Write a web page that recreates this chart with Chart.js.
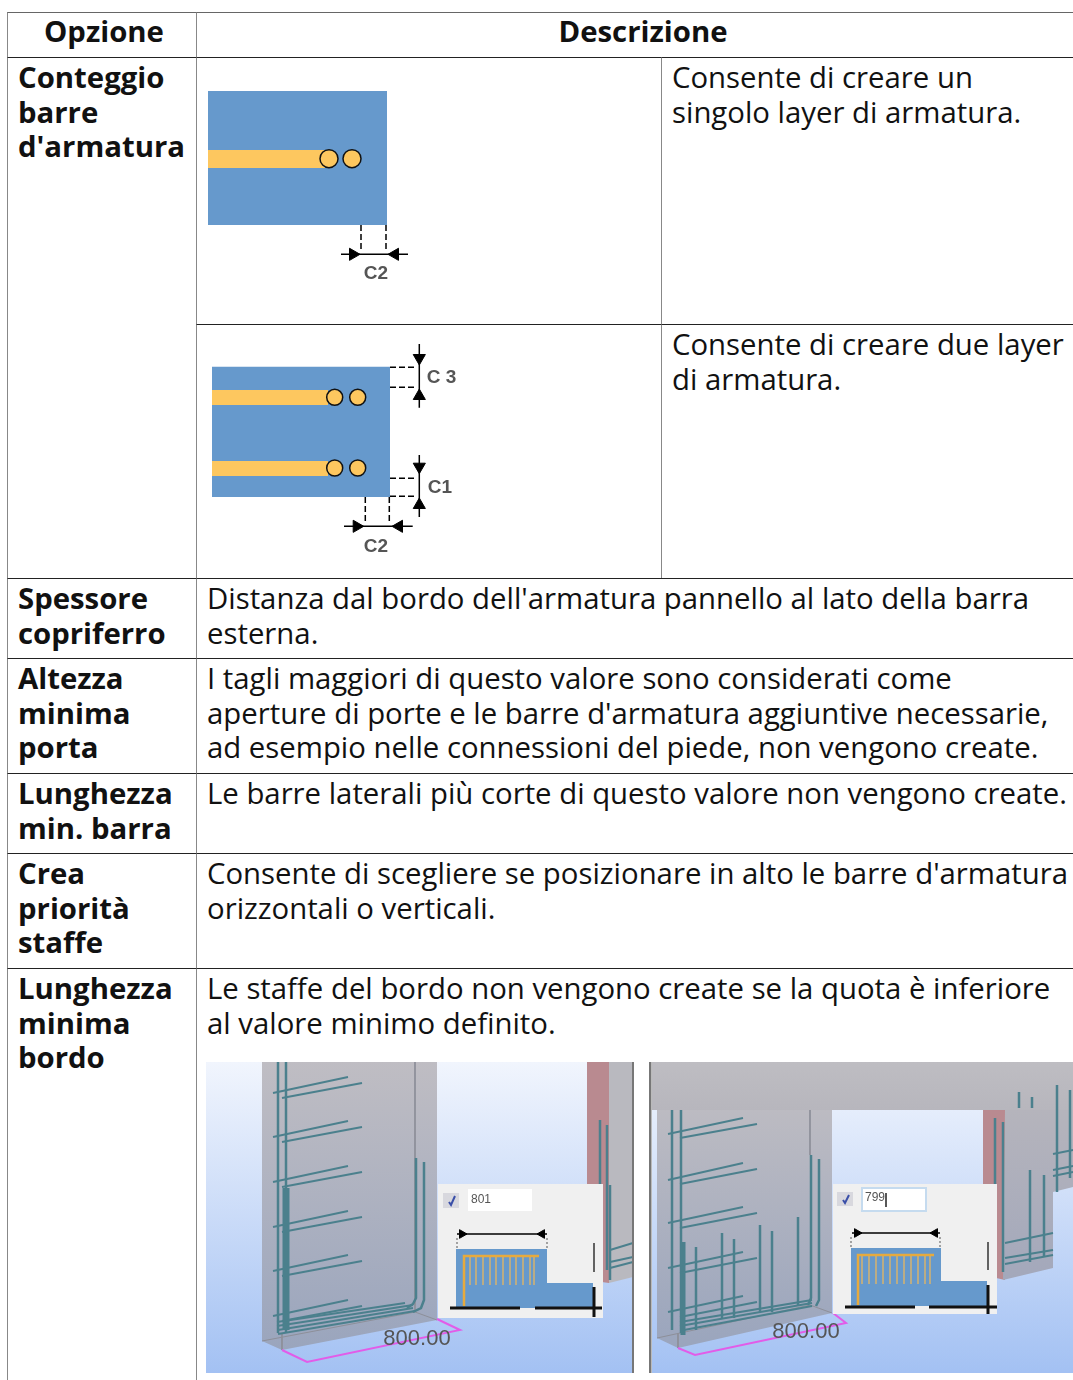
<!DOCTYPE html>
<html lang="it">
<head>
  <meta charset="UTF-8" />
  <title>Opzione / Descrizione</title>
  <script src="https://cdn.jsdelivr.net/npm/chart.js"></script>
  <style>
    html, body { margin: 0; background: #fff; width: 1073px; height: 1380px; overflow: hidden; }
    table { position: absolute; left: 7px; top: 12px; width: 1100px; table-layout: fixed; border-collapse: separate; border-spacing: 0;
            font: 29.33px/34.7px "Open Sans", sans-serif; color: #111; }
    th, td { border-left: 1px solid #888; border-top: 1px solid #222; padding: 2px 0 0 10px; vertical-align: top; text-align: left; white-space: nowrap; box-sizing: border-box; }
    tr:first-child th { border-top-color: #666; text-align: center; padding: 1px 0 0 0; }
    td.opt { font-weight: 700; }
    canvas { position: absolute; }
    .photo { filter: blur(0.7px); }
    .fig { filter: blur(0.4px); }
  </style>
</head>
<body>
  <table>
    <colgroup><col style="width:189px"><col style="width:465px"><col></colgroup>
    <tr style="height:45px"><th style="padding-left:4px">Opzione</th><th colspan="2" style="padding-right:18px">Descrizione</th></tr>
    <tr style="height:267px"><td class="opt" rowspan="2">Conteggio<br>barre<br>d'armatura</td><td></td><td>Consente di creare un<br>singolo layer di armatura.</td></tr>
    <tr style="height:254px"><td></td><td>Consente di creare due layer<br>di armatura.</td></tr>
    <tr style="height:80px"><td class="opt">Spessore<br>copriferro</td><td colspan="2">Distanza dal bordo dell'armatura pannello al lato della barra<br>esterna.</td></tr>
    <tr style="height:115px"><td class="opt">Altezza<br>minima<br>porta</td><td colspan="2">I tagli maggiori di questo valore sono considerati come<br>aperture di porte e le barre d'armatura aggiuntive necessarie,<br>ad esempio nelle connessioni del piede, non vengono create.</td></tr>
    <tr style="height:80px"><td class="opt">Lunghezza<br>min. barra</td><td colspan="2">Le barre laterali più corte di questo valore non vengono create.</td></tr>
    <tr style="height:115px"><td class="opt">Crea<br>priorità<br>staffe</td><td colspan="2">Consente di scegliere se posizionare in alto le barre d'armatura<br>orizzontali o verticali.</td></tr>
    <tr style="height:412px"><td class="opt">Lunghezza<br>minima<br>bordo</td><td colspan="2">Le staffe del bordo non vengono create se la quota è inferiore<br>al valore minimo definito.</td></tr>
  </table>

  <canvas id="fig1" class="fig"></canvas>
  <canvas id="fig2" class="fig"></canvas>
  <canvas id="photo1" class="photo"></canvas>
  <canvas id="photo2" class="photo"></canvas>

  <script>
    const BLUE = '#6699cc', YELLOW = '#fdc75f', TEAL = '#4b808d', PINK = '#e25ce8', ROSE = '#b98a90';

    // coverage figures (values are in the picture's own x/y units)
    const fig1Plate = [[208,91],[387,91],[387,225],[208,225]];
    const fig1Bar = [[208,150],[325,150],[325,168],[208,168]];
    const fig1Bars = [[329,158.7],[352,158.7]];
    const fig1Dashes = [[[361,225],[361,251]], [[386,225],[386,251]]];
    const fig1Dim = [[341,254.3],[408,254.3]];
    const fig1ArrowR = [[353,254.3]];
    const fig1ArrowL = [[395,254.3]];

    const fig2Plate = [[212,366.7],[390,366.7],[390,497],[212,497]];
    const fig2BarTop = [[212,390],[328,390],[328,405],[212,405]];
    const fig2BarLow = [[212,461],[328,461],[328,476],[212,476]];
    const fig2Bars = [[334.7,397.3],[357.7,397.3],[334.7,468],[357.7,468]];
    const fig2Dashes = [
      [[390,367.3],[416,367.3]], [[390,387.3],[416,387.3]],
      [[390,478.3],[416,478.3]], [[390,496.3],[416,496.3]],
      [[365.3,497],[365.3,522]], [[389.3,497],[389.3,522]]
    ];
    const fig2Dims = [
      [[419.3,344],[419.3,407.7]], [[419.3,455],[419.3,517]], [[344,526.3],[412.7,526.3]]
    ];
    const fig2ArrowD = [[419.3,358],[419.3,466.7]];
    const fig2ArrowU = [[419.3,396],[419.3,505]];
    const fig2ArrowR = [[356.7,526.3]];
    const fig2ArrowL = [[399,526.3]];

    const fig1Labels = [['C2',376,274,19,'#555']];
    const fig2Labels = [['C 3',441.5,378,19,'#555'],['C1',440,488,19,'#555'],['C2',376,547,19,'#555']];

    // left screenshot
    const p1Sky = [[206,1062],[634,1062],[634,1373],[206,1373]];
    const p1Wall = [[262,1062],[437,1062],[437,1320],[282,1350],[262,1341]];
    const p1WallEdges = [[[415,1062],[415,1312]], [[262,1341],[415,1312]], [[415,1312],[437,1320]], [[282,1333],[282,1350]]];
    const p1Pink = [[587,1062],[609,1062],[609,1283],[587,1280]];
    const p1Side = [[609,1062],[633,1062],[633,1277],[609,1283]];
    const p1Outline = [[282,1350],[307,1362],[460,1330],[437,1319]];
    const p1Rebars = [
      [[278,1062],[278,1333]], [[286,1062],[286,1333]],
      [[416,1158],[416,1298],[413,1304],[407,1308]], [[424,1162],[424,1300],[421,1308],[413,1312]],
      [[600,1120],[600,1268]], [[607,1125],[607,1270]], [[610,1185],[610,1280]]
    ];
    const p1ThickBar = [[286,1188],[286,1330]];
    const p1Stirrups = [
      [[273,1093],[348,1077]], [[282,1098],[362,1083]],
      [[273,1137],[348,1121]], [[282,1142],[362,1127]],
      [[273,1182],[348,1166]], [[282,1187],[362,1172]],
      [[273,1227],[348,1211]], [[282,1232],[362,1217]],
      [[273,1271],[348,1255]], [[282,1276],[362,1261]],
      [[273,1316],[348,1300]], [[282,1321],[362,1306]],
      [[277,1322],[405,1303]], [[277,1326],[413,1305]], [[278,1330],[413,1308]], [[278,1334],[415,1311]],
      [[610,1250],[633,1243]], [[610,1262],[633,1257]], [[610,1268],[633,1262]]
    ];
    const p1Dialog = [[438,1184],[603,1184],[603,1318],[438,1318]];
    const p1Check = [[443,1193],[459,1193],[459,1208],[443,1208]];
    const p1Tick = [[449,1202],[451,1205],[455,1196]];
    const p1Input = [[468,1189],[532,1189],[532,1211],[468,1211]];
    const p1Dim = [[457,1234],[547,1234]];
    const p1DimArrowR = [[462,1234]];
    const p1DimArrowL = [[542,1234]];
    const p1DimDashes = [[[457,1238],[457,1249]], [[547,1238],[547,1249]]];
    const p1Shape = [[456,1249],[547,1249],[547,1283],[593,1283],[593,1308],[456,1308]];
    const p1Hoop = [[464,1306],[464,1256],[539,1256]];
    const p1Legs = [
      [[470,1256],[470,1285]], [[476,1256],[476,1285]], [[483,1256],[483,1285]], [[490,1256],[490,1285]],
      [[496,1256],[496,1285]], [[503,1256],[503,1285]], [[510,1256],[510,1285]], [[516,1256],[516,1285]],
      [[523,1256],[523,1285]], [[530,1256],[530,1285]], [[534,1256],[534,1285]]
    ];
    const p1Black = [[[450,1308],[520,1308]], [[535,1308],[602,1308]], [[594,1287],[594,1317]]];
    const p1BlackThin = [[[594,1243],[594,1272]]];
    const p1Labels = [['800.00',417,1339,22,'#555'],['801',481,1200,12,'#555']];

    // right screenshot
    const p2Sky = [[652,1062],[1073,1062],[1073,1373],[652,1373]];
    const p2Band = [[652,1062],[1073,1062],[1073,1110],[652,1110]];
    const p2Wall = [[657,1110],[832,1110],[832,1313],[678,1348],[657,1338]];
    const p2RightWall = [[1005,1110],[1073,1110],[1073,1187],[1053,1192],[1053,1268],[1003,1280]];
    const p2Pink = [[983,1110],[1005,1110],[1005,1280],[983,1275]];
    const p2Post = [[650,1062],[650,1373]];
    const p2Outline = [[678,1348],[695,1355],[846,1323],[833,1313]];
    const p2Edges = [[[810,1110],[810,1155]], [[657,1338],[810,1305]], [[810,1305],[832,1313]], [[678,1333],[678,1348]]];
    const p2Rebars = [
      [[672,1110],[672,1330]], [[681,1110],[681,1333]],
      [[811,1155],[811,1298],[808,1305]], [[819,1159],[819,1300],[816,1306]],
      [[696,1247],[696,1330]], [[722,1233],[722,1318]], [[734,1239],[734,1318]],
      [[760,1225],[760,1312]], [[772,1231],[772,1312]], [[798,1217],[798,1305]],
      [[995,1118],[995,1270]], [[1003,1122],[1003,1272]], [[1030,1170],[1030,1262]], [[1044,1175],[1044,1256]],
      [[1019,1092],[1019,1108]], [[1032,1097],[1032,1108]], [[1057,1085],[1057,1192]], [[1070,1090],[1070,1178]]
    ];
    const p2ThickBar = [[683,1242],[683,1335]];
    const p2Stirrups = [
      [[668,1134],[743,1118]], [[680,1138],[757,1124]],
      [[668,1180],[743,1163]], [[680,1184],[757,1169]],
      [[668,1223],[743,1207]], [[680,1228],[757,1213]],
      [[668,1268],[743,1252]], [[680,1273],[757,1258]],
      [[668,1312],[743,1296]], [[680,1317],[757,1302]],
      [[680,1322],[812,1300]], [[680,1326],[812,1303]], [[684,1330],[812,1306]],
      [[1005,1243],[1053,1233]], [[1005,1258],[1053,1250]], [[1005,1264],[1053,1255]],
      [[1053,1154],[1073,1150]], [[1053,1170],[1073,1166]], [[1053,1176],[1073,1172]]
    ];
    const p2Dialog = [[833,1184],[997,1184],[997,1314],[833,1314]];
    const p2Check = [[837,1192],[853,1192],[853,1206],[837,1206]];
    const p2Tick = [[843,1200],[845,1203],[849,1195]];
    const p2InputFrame = [[861,1187],[927,1187],[927,1212],[861,1212]];
    const p2Input = [[863,1189],[925,1189],[925,1210],[863,1210]];
    const p2Caret = [[886,1193],[886,1207]];
    const p2Dim = [[852,1233],[940,1233]];
    const p2DimArrowR = [[857,1233]];
    const p2DimArrowL = [[935,1233]];
    const p2DimDashes = [[[851,1237],[851,1248]], [[940,1237],[940,1248]]];
    const p2Shape = [[851,1248],[941,1248],[941,1281],[987,1281],[987,1306],[851,1306]];
    const p2Hoop = [[858,1305],[858,1255],[934,1255]];
    const p2Legs = [
      [[862,1255],[862,1284]], [[869,1255],[869,1284]], [[876,1255],[876,1284]], [[883,1255],[883,1284]],
      [[890,1255],[890,1284]], [[897,1255],[897,1284]], [[904,1255],[904,1284]], [[911,1255],[911,1284]],
      [[918,1255],[918,1284]], [[925,1255],[925,1284]], [[930,1255],[930,1284]]
    ];
    const p2Black = [[[845,1307],[915,1307]], [[929,1307],[997,1307]], [[988,1285],[988,1314]]];
    const p2BlackThin = [[[988,1242],[988,1270]]];
    const p2Labels = [['800.00',806,1332,22,'#555'],['799',875,1198,12,'#555']];

    // the four drawings sit on top of the table
    const boxes = {
      fig1: [197, 58, 660, 323],
      fig2: [197, 325, 660, 577],
      photo1: [206, 1062, 634, 1373],
      photo2: [649, 1062, 1073, 1373]
    };

    function vgrad(y0, y1, c0, c1) {
      return (c) => {
        const chart = c.chart;
        const y = chart.scales.y;
        if (!y || !chart.chartArea) return c0;
        const a = y.getPixelForValue(y0), b = y.getPixelForValue(y1);
        if (!isFinite(a) || !isFinite(b)) return c0;
        const g = chart.ctx.createLinearGradient(0, a, 0, b);
        g.addColorStop(0, c0);
        g.addColorStop(1, c1);
        return g;
      };
    }
    function poly(points, color) {
      return { data: points, showLine: true, fill: 'shape', backgroundColor: color, borderWidth: 0, pointRadius: 0 };
    }
    function line(points, color, width, dash) {
      return { data: points, showLine: true, fill: false, borderColor: color, borderWidth: width, borderDash: dash || [], pointRadius: 0 };
    }
    function lines(list, color, width, dash) {
      return list.map(p => line(p, color, width, dash));
    }
    function dots(points, radius, color, edge) {
      return { data: points, showLine: false, pointStyle: 'circle', pointRadius: radius, pointBackgroundColor: color, pointBorderColor: edge, pointBorderWidth: 1.5 };
    }
    function arrows(points, rot, radius) {
      return { data: points, showLine: false, pointStyle: 'triangle', pointRotation: rot, pointRadius: radius, pointBackgroundColor: '#000', pointBorderColor: '#000', pointBorderWidth: 1 };
    }

    const textLabels = {
      id: 'textLabels',
      afterDatasetsDraw(chart, args, opts) {
        const { ctx, scales } = chart;
        ctx.save();
        ctx.textAlign = 'center';
        ctx.textBaseline = 'middle';
        for (const [text, x, y, size, color] of opts.items) {
          ctx.font = (size < 20 && size > 12 ? 'bold ' : '') + size + 'px "Liberation Sans", sans-serif';
          ctx.fillStyle = color;
          ctx.fillText(text, scales.x.getPixelForValue(x), scales.y.getPixelForValue(y));
        }
        ctx.restore();
      }
    };

    function draw(id, marks, items) {
      const [x0, y0, x1, y1] = boxes[id];
      const canvas = document.getElementById(id);
      canvas.width = x1 - x0;
      canvas.height = y1 - y0;
      canvas.style.left = x0 + 'px';
      canvas.style.top = y0 + 'px';
      canvas.style.width = (x1 - x0) + 'px';
      canvas.style.height = (y1 - y0) + 'px';
      // first dataset is painted last by Chart.js, marks are listed bottom first
      new Chart(canvas, {
        type: 'scatter',
        data: { datasets: marks.slice().reverse() },
        plugins: [textLabels],
        options: {
          responsive: false,
          animation: false,
          events: [],
          layout: { padding: 0, autoPadding: false },
          scales: {
            x: { type: 'linear', min: x0, max: x1, display: false },
            y: { type: 'linear', min: y0, max: y1, reverse: true, display: false }
          },
          plugins: { legend: { display: false }, tooltip: { enabled: false }, textLabels: { items } }
        }
      });
    }

    draw('fig1', [
      poly(fig1Plate, BLUE),
      poly(fig1Bar, YELLOW),
      dots(fig1Bars, 9, YELLOW, '#111'),
      ...lines(fig1Dashes, '#000', 1.5, [6, 3]),
      line(fig1Dim, '#000', 1.5),
      arrows(fig1ArrowR, 90, 7),
      arrows(fig1ArrowL, 270, 7)
    ], fig1Labels);

    draw('fig2', [
      poly(fig2Plate, BLUE),
      poly(fig2BarTop, YELLOW),
      poly(fig2BarLow, YELLOW),
      dots(fig2Bars, 8, YELLOW, '#111'),
      ...lines(fig2Dashes, '#000', 1.5, [6, 3]),
      ...lines(fig2Dims, '#000', 1.5),
      arrows(fig2ArrowD, 180, 7),
      arrows(fig2ArrowU, 0, 7),
      arrows(fig2ArrowR, 90, 7),
      arrows(fig2ArrowL, 270, 7)
    ], fig2Labels);

    draw('photo1', [
      poly(p1Sky, vgrad(1062, 1373, '#f1f5fd', '#a3c1f3')),
      poly(p1Pink, ROSE),
      poly(p1Side, '#b9b9bf'),
      poly(p1Wall, vgrad(1062, 1350, '#bfbdc3', '#9aa5bd')),
      ...lines(p1WallEdges, '#8d8f99', 1),
      line(p1Outline, PINK, 2),
      line(p1ThickBar, TEAL, 7),
      ...lines(p1Rebars, TEAL, 2.5),
      ...lines(p1Stirrups, TEAL, 2),
      line([[633,1062],[633,1373]], '#777', 2),
      poly(p1Dialog, '#f0f0f0'),
      poly(p1Check, '#d8d8de'),
      line(p1Tick, '#3a4fa8', 2),
      poly(p1Input, '#ffffff'),
      poly(p1Shape, BLUE),
      ...lines(p1Legs, '#d6b36e', 1.5),
      line(p1Hoop, '#e6aa3e', 2.5),
      line(p1Dim, '#000', 1.5),
      arrows(p1DimArrowR, 90, 5),
      arrows(p1DimArrowL, 270, 5),
      ...lines(p1DimDashes, '#555', 1, [2, 2]),
      ...lines(p1Black, '#111', 3),
      ...lines(p1BlackThin, '#333', 1.5)
    ], p1Labels);

    draw('photo2', [
      poly(p2Sky, vgrad(1062, 1373, '#f1f5fd', '#a3c1f3')),
      poly(p2Band, vgrad(1062, 1110, '#bebdc2', '#b7b6bd')),
      poly(p2Pink, ROSE),
      poly(p2RightWall, vgrad(1110, 1280, '#b5b4bc', '#a3a8bb')),
      poly(p2Wall, vgrad(1110, 1348, '#bcbbc2', '#9aa5bd')),
      ...lines(p2Edges, '#8d8f99', 1),
      line(p2Outline, PINK, 2),
      line(p2ThickBar, TEAL, 5),
      ...lines(p2Rebars, TEAL, 2.5),
      ...lines(p2Stirrups, TEAL, 2),
      line(p2Post, '#777', 3),
      poly(p2Dialog, '#f0f0f0'),
      poly(p2Check, '#d8d8de'),
      line(p2Tick, '#3a4fa8', 2),
      poly(p2InputFrame, '#c5dbef'),
      poly(p2Input, '#ffffff'),
      line(p2Caret, '#222', 1.5),
      poly(p2Shape, BLUE),
      ...lines(p2Legs, '#d6b36e', 1.5),
      line(p2Hoop, '#e6aa3e', 2.5),
      line(p2Dim, '#000', 1.5),
      arrows(p2DimArrowR, 90, 5),
      arrows(p2DimArrowL, 270, 5),
      ...lines(p2DimDashes, '#555', 1, [2, 2]),
      ...lines(p2Black, '#111', 3),
      ...lines(p2BlackThin, '#333', 1.5)
    ], p2Labels);
  </script>
</body>
</html>
